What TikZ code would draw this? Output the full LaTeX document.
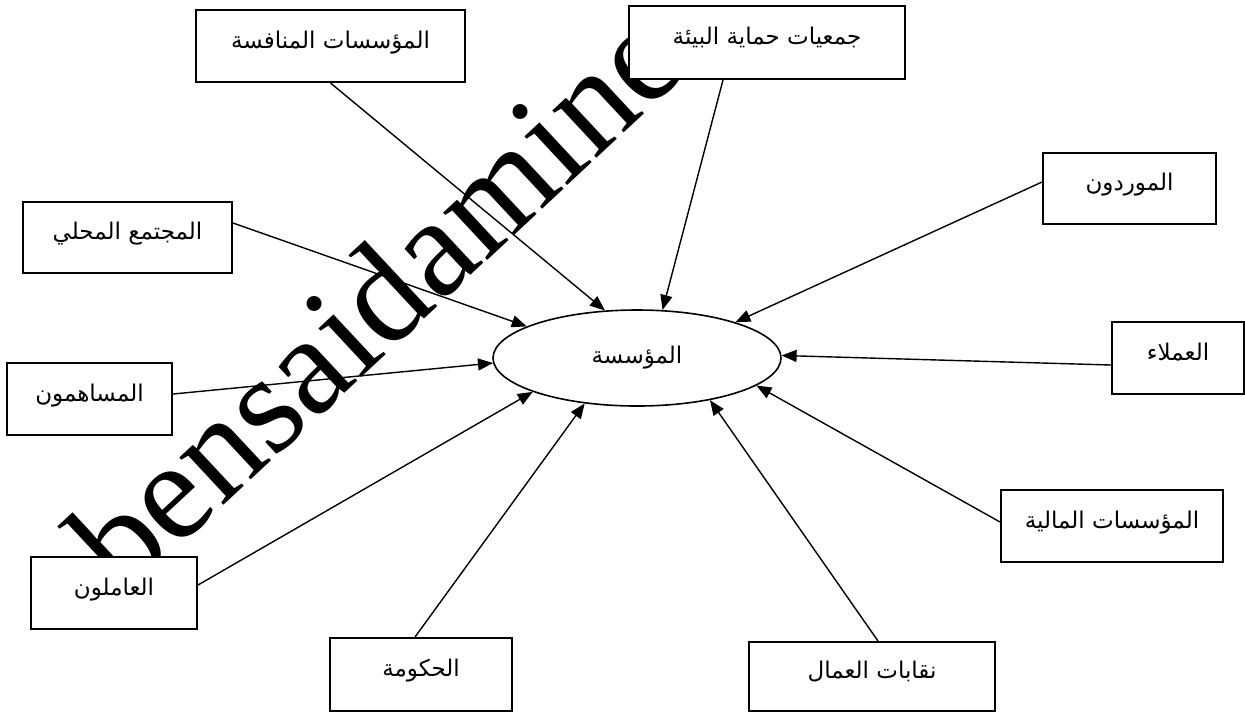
\documentclass[tikz,border=0pt]{standalone}
\usepackage{fontspec}
\usetikzlibrary{shapes.geometric,arrows.meta}
\setmainfont{Liberation Serif}
\newfontfamily\arabicfont[Script=Arabic]{DejaVu Sans}
\TeXXeTstate=1
\begin{document}
\begin{tikzpicture}[x=0.5pt,y=-0.5pt,
  box/.style={draw, line width=1pt, fill=white, rectangle, inner sep=0pt,
    text height=7pt, text depth=5pt,
    font=\arabicfont\fontsize{11.5}{13}\selectfont},
  hub/.style={draw, line width=0.8pt, fill=white, ellipse, inner sep=0pt,
    minimum width=144pt, minimum height=48pt,
    font=\arabicfont\fontsize{11.5}{13}\selectfont},
  conn/.style={line width=0.7pt, -{Triangle[length=7.5pt,width=6pt]}},
  wmark/.style={font=\fontsize{70.5}{70.5}\selectfont, inner sep=0pt}]
\useasboundingbox (0,0) rectangle (1245,713);
\fill[white] (0,0) rectangle (1245,713);
% watermark
\node[wmark, rotate=43, anchor=base west] (wm) at (124,599) {bensaidamine};
% boxes
\node[box, minimum width=134.5pt, minimum height=36pt] (b1) at (330.5,46) {\beginR المؤسسات المنافسة\endR};
\node[box, minimum width=138pt, minimum height=36.5pt] (b2) at (767,42.5) {\beginR جمعيات حماية البيئة\endR};
\node[box, minimum width=86.5pt, minimum height=35.5pt] (b3) at (1129.5,188.5) {\beginR الموردون\endR};
\node[box, minimum width=104.5pt, minimum height=35.5pt] (b4) at (127.5,237.5) {\beginR المجتمع المحلي\endR};
\node[box, minimum width=66pt, minimum height=36pt] (b5) at (1178,358) {\beginR العملاء\endR};
\node[box, minimum width=82.5pt, minimum height=36pt] (b6) at (89.5,399) {\beginR المساهمون\endR};
\node[box, minimum width=111pt, minimum height=36pt] (b7) at (1112,526) {\beginR المؤسسات المالية\endR};
\node[box, minimum width=83pt, minimum height=36pt] (b8) at (114,593) {\beginR العاملون\endR};
\node[box, minimum width=91pt, minimum height=36.5pt] (b9) at (421,674.5) {\beginR الحكومة\endR};
\node[box, minimum width=123pt, minimum height=34.5pt] (b10) at (872,676.5) {\beginR نقابات العمال\endR};
% hub
\node[hub] (E) at (637,358) {\beginR المؤسسة\endR};
% connectors
\draw[conn] (b1.south) -- (E.124);
\draw[conn] ([xshift=-22pt]b2.south) -- (E.62);
\draw[conn] ([yshift=3.25pt]b3.west) -- (E.20);
\draw[conn] ([yshift=7.25pt]b4.east) -- (E.164);
\draw[conn] ([yshift=-3.5pt]b5.west) -- (E.1);
\draw[conn] ([yshift=2.5pt]b6.east) -- (E.182);
\draw[conn] ([yshift=2pt]b7.west) -- (E.347);
\draw[conn] ([yshift=4pt]b8.east) -- (E.198);
\draw[conn] ([xshift=-3pt]b9.north) -- (E.221);
\draw[conn] ([xshift=3pt]b10.north) -- (E.330);
\end{tikzpicture}
\end{document}
